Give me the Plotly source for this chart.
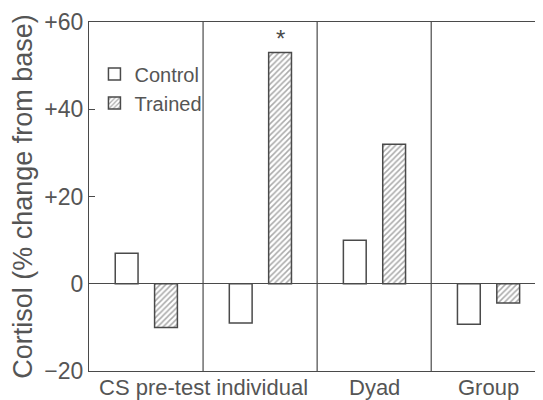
import plotly.graph_objects as go

categories = ["CS pre-test", "individual", "Dyad", "Group"]
control = [7, -9, 10, -9.3]
trained = [-10, 53, 32, -4.4]
y_ticks = [-20, 0, 20, 40, 60]
y_tick_labels = ["\u221220", "0", "+20", "+40", "+60"]

INK = "#4a4a4a"
TXT = "#555555"
FONT = "Liberation Sans, Arial, Helvetica, sans-serif"
xs = list(range(len(categories)))

fig = go.Figure()
fig.add_trace(go.Bar(
    x=xs, y=control, name="Control", width=0.2, offset=-0.27,
    marker=dict(color="white", line=dict(color=INK, width=1.5)),
))
fig.add_trace(go.Bar(
    x=xs, y=trained, name="Trained", width=0.2, offset=0.075,
    marker=dict(color="white", line=dict(color=INK, width=1.5),
                pattern=dict(shape="/", size=4, solidity=0.38,
                             fgcolor="#555555", bgcolor="white")),
))

# significance marker above the trained individual bar
fig.add_annotation(x=1 + 0.075 + 0.1, y=trained[1], text="*", showarrow=False,
                   yanchor="bottom", yshift=-1, font=dict(size=24, color=INK, family=FONT))

# category labels
fig.add_annotation(x=0.5, y=0, yref="paper", yanchor="top", yshift=-2,
                   text=categories[0] + " " + categories[1], showarrow=False,
                   font=dict(size=22, color=TXT, family=FONT))
for i in (2, 3):
    fig.add_annotation(x=xs[i], y=0, yref="paper", yanchor="top", yshift=-2,
                       text=categories[i], showarrow=False,
                       font=dict(size=22, color=TXT, family=FONT))

# panel dividers
for d in [0.5, 1.5, 2.5, 3.5]:
    fig.add_shape(type="line", x0=d, x1=d, y0=0, y1=1, yref="paper",
                  line=dict(color=INK, width=1.2))

# the page body has an 8px default margin, so the figure is offset by 8px
fig.update_layout(
    width=535, height=392,
    margin=dict(l=81, r=0, t=14, b=29),
    plot_bgcolor="white", paper_bgcolor="white",
    barmode="overlay",
    showlegend=True,
    legend=dict(x=0.012, y=0.907, xanchor="left", yanchor="top",
                font=dict(size=20, color=TXT, family=FONT),
                bgcolor="rgba(0,0,0,0)", itemwidth=30, tracegroupgap=2),
    font=dict(family=FONT, color=TXT),
    xaxis=dict(range=[-0.5, 3.48], showticklabels=False, ticks="",
               showgrid=False, zeroline=False, showline=True, mirror=True,
               linecolor=INK, linewidth=1.2),
    yaxis=dict(range=[-20, 60], tickvals=y_ticks, ticktext=y_tick_labels,
               ticks="inside", ticklen=6, tickcolor=INK, tickwidth=1.2,
               tickfont=dict(size=23, color=TXT, family=FONT),
               showgrid=False, zeroline=True, zerolinecolor=INK, zerolinewidth=1.2,
               showline=True, linecolor=INK, linewidth=1.2,
               title=dict(text="Cortisol (% change from base)", standoff=6,
                          font=dict(size=27, color=TXT, family=FONT))),
)

fig.write_html("out.html")
